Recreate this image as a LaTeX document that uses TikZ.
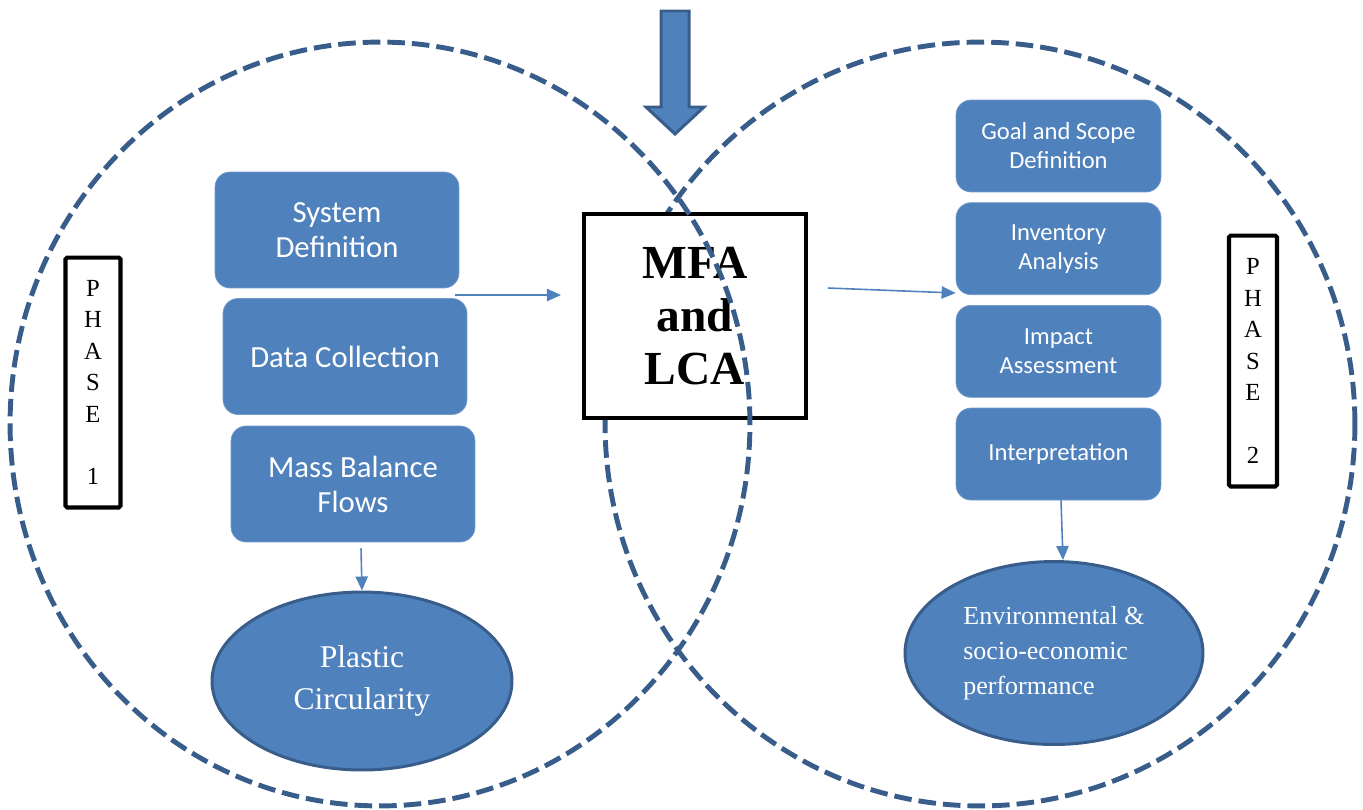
\documentclass[tikz,border=0pt]{standalone}
\usepackage{fontspec}
\setmainfont{Liberation Serif}
\newfontfamily\calfont{Carlito}
\usetikzlibrary{positioning, arrows.meta, shapes.geometric}
\definecolor{boxblue}{HTML}{4F81BD}
\definecolor{edgeblue}{HTML}{385D8A}

\begin{document}
\begin{tikzpicture}[x=0.02cm, y=-0.02cm, >={Triangle[length=8pt,width=7pt]}, node distance=0.2cm,
    stage/.style={rectangle, rounded corners=0.3cm, fill=boxblue, draw=boxblue!80!white, text=white, align=center, inner sep=0pt},
    bigstage/.style={stage, minimum width=4.88cm, minimum height=2.32cm, font=\calfont\fontsize{17.5}{20}\selectfont},
    smallstage/.style={stage, minimum width=4.1cm, minimum height=1.84cm, font=\calfont\fontsize{14}{16.5}\selectfont},
    outcome/.style={ellipse, fill=boxblue, draw=edgeblue, line width=1.7pt, text=white, align=center, inner sep=0pt},
    phase/.style={rectangle, draw=black, line width=2.3pt, rounded corners=1pt, align=center, font=\fontsize{14}{17.9}\selectfont, inner sep=0pt},
    flow/.style={draw=boxblue, line width=0.9pt},
    venn/.style={draw=edgeblue, line width=2.8pt, dash pattern=on 10pt off 4pt}]
                        \useasboundingbox (0,0) rectangle (1363,809);
                        % the two phases
                        \draw[venn] (980,424) ellipse [x radius=7.5cm, y radius=7.64cm];
                        \node[draw, line width=2.3pt, fill=white, minimum width=4.44cm, minimum height=4.08cm, align=center,
                              font=\bfseries\fontsize{27}{30}\selectfont]                 (mfa)  at (695,316)    {MFA\\and\\LCA};
                        \draw[venn] (380,424) ellipse [x radius=7.4cm, y radius=7.64cm];
                        % arrow from the top
                        \filldraw[fill=boxblue, draw=edgeblue, line width=1.7pt]
                              (661,11) -- (689,11) -- (689,107) -- (704,107) -- (675,134) -- (646,107) -- (661,107) -- cycle;
                        % phase 1
                        \node[phase, minimum width=1.1cm, minimum height=5.0cm]           (ph1)  at (93,382.5)   {P\\H\\A\\S\\E\\[17.9pt]1};
                        \node[bigstage]                                                   (sys)  at (337,230)    {System\\Definition};
                        \node[bigstage]                                                   (data) at (345,356.5)  {Data Collection};
                        \node[bigstage]                                                   (mass) at (353,484)    {Mass Balance\\Flows};
                        \node[outcome, minimum width=6.0cm, minimum height=3.56cm,
                              font=\fontsize{18}{24}\selectfont]                          (circ) at (362,681)    {Plastic\\Circularity};
                        % phase 2
                        \node[phase, minimum width=0.96cm, minimum height=5.02cm]         (ph2)  at (1253,361)   {P\\H\\A\\S\\E\\[17.9pt]2};
                        \node[smallstage]                                                 (goal) at (1058.5,146) {Goal and Scope\\Definition};
                        \node[smallstage]                                                 (inv)  [below=of goal] {Inventory\\Analysis};
                        \node[smallstage]                                                 (imp)  [below=of inv]  {Impact\\Assessment};
                        \node[smallstage]                                                 (int)  [below=of imp]  {Interpretation};
                        \node[outcome, minimum width=5.96cm, minimum height=3.66cm, align=left,
                              font=\fontsize{14.8}{20}\selectfont]                        (env)  at (1054,653)   {Environmental \&\\socio-economic\\performance};
                        % flows
                        \coordinate (sysout) at (455,295);
                        \coordinate (mfaout) at (828,288);
                        \path[->] (sysout)                               edge [flow, shorten >=0.42cm] (sysout -| mfa.west);
                        \path[->] (mfaout)                               edge [flow]                   ([yshift=0.04cm]inv.south west);
                        \path[->] ([xshift=0.16cm,yshift=-0.12cm]mass.south) edge [flow]               (circ.north);
                        \path[->] ([xshift=0.05cm]int.south)             edge [flow]                   ([xshift=0.18cm]env.north);
                    \end{tikzpicture}
\end{document}
